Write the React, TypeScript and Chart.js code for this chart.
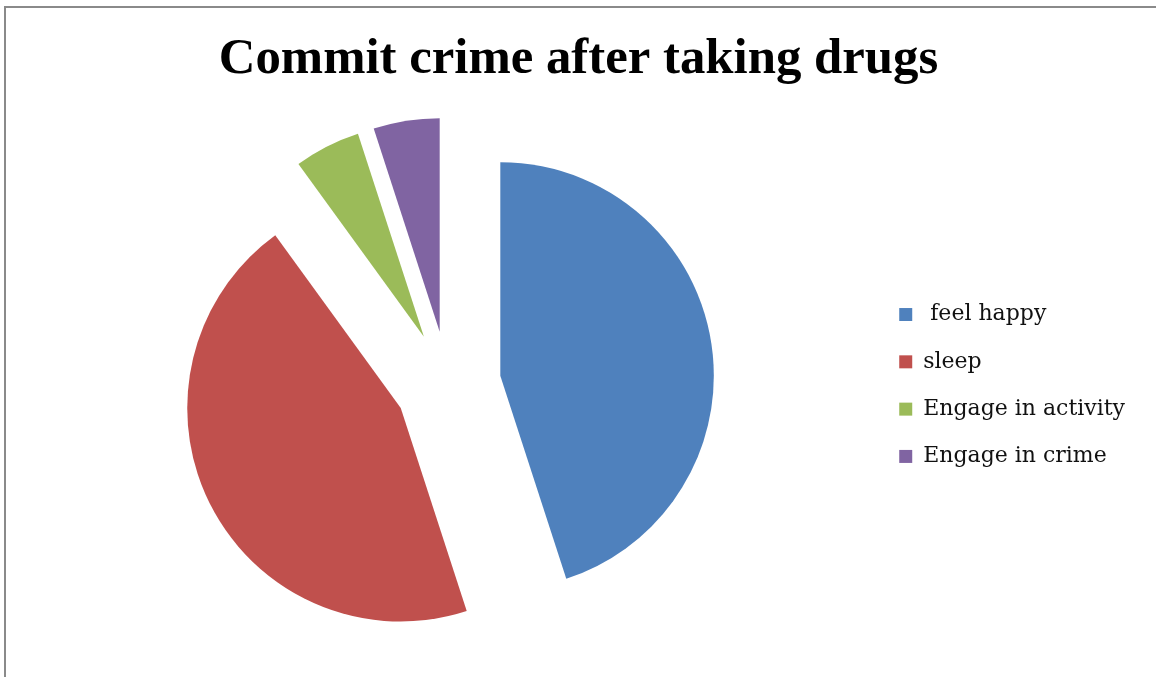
import React, { useEffect, useRef } from "react";
import { Chart, registerables, ArcElement, PieController } from "chart.js";

Chart.register(...registerables);

// Arc element that moves each slice outward along its mid-angle by the
// `offset` option, keeping the slice's edges radial (exploded pie).
class ExplodedArc extends ArcElement {
  static id = "explodedArc";
  draw(ctx: CanvasRenderingContext2D) {
    const self: any = this;
    const opts: any = self.options;
    const { x, y, startAngle, endAngle, outerRadius } = self;
    if (endAngle - startAngle <= 0 || outerRadius <= 0) return;
    const mid = (startAngle + endAngle) / 2;
    const off = opts.offset || 0;
    const cx = x + Math.cos(mid) * off;
    const cy = y + Math.sin(mid) * off;
    ctx.save();
    ctx.fillStyle = opts.backgroundColor;
    ctx.beginPath();
    ctx.moveTo(cx, cy);
    ctx.arc(cx, cy, outerRadius, startAngle, endAngle);
    ctx.closePath();
    ctx.fill();
    ctx.restore();
  }
}

class ExplodedPieController extends PieController {
  static id = "explodedPie";
  static defaults = { dataElementType: "explodedArc" };
}

Chart.register(ExplodedArc as any, ExplodedPieController as any);

const titleText = "Commit crime after taking drugs";
const categories = [" feel happy", "sleep", "Engage in activity", "Engage in crime"];
const values = [45, 45, 5, 5];
const colors = ["#4F81BD", "#C0504D", "#9BBB59", "#8064A2"];

export default function App() {
  const ref = useRef<HTMLCanvasElement | null>(null);

  useEffect(() => {
    if (!ref.current) return;
    const chart = new Chart(ref.current, {
      type: "explodedPie" as any,
      data: {
        labels: categories,
        datasets: [
          {
            data: values,
            backgroundColor: colors,
            borderWidth: 0,
            offset: 53,
            hoverOffset: 0,
          } as any,
        ],
      },
      options: {
        responsive: false,
        animation: false,
        devicePixelRatio: 1,
        radius: 213.5,
        layout: { padding: { left: 22, right: 21, top: 0, bottom: 9 } },
        plugins: {
          title: {
            display: true,
            text: titleText,
            color: "#000000",
            font: { family: "'Liberation Serif', serif", size: 50.8, weight: "bold", lineHeight: 1.2 },
            padding: { top: 29, bottom: 10 },
          },
          legend: {
            display: true,
            position: "right",
            align: "center",
            fullSize: false,
            title: { display: true, text: " ", padding: 0, font: { size: 3, lineHeight: 1 } },
            labels: {
              color: "#111111",
              font: { family: "'DejaVu Serif', serif", size: 22 },
              boxWidth: 13,
              boxHeight: 13,
              padding: 25.3,
            },
          },
          tooltip: { enabled: false },
        },
      } as any,
    });
    return () => chart.destroy();
  }, []);

  return (
    <div style={{ position: "absolute", left: 0, top: 0, width: 1156, height: 677, background: "#ffffff" }}>
      <canvas ref={ref} width={1156} height={677} style={{ position: "absolute", left: 0, top: 0 }} />
      <div
        style={{
          position: "absolute",
          left: 4,
          top: 6,
          width: 1152,
          height: 671,
          boxSizing: "border-box",
          borderTop: "2px solid #8a8a8a",
          borderLeft: "2px solid #8a8a8a",
          pointerEvents: "none",
        }}
      />
    </div>
  );
}
